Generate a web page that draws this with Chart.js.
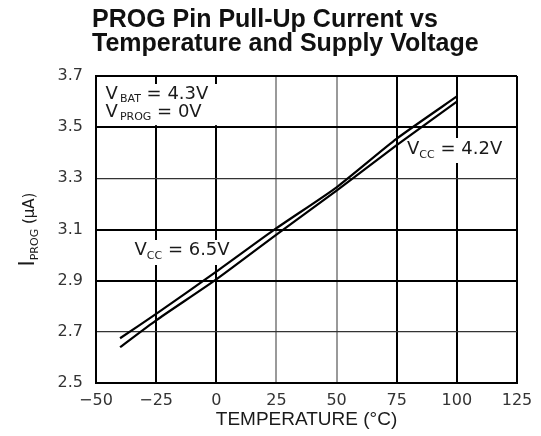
<!DOCTYPE html>
<html>
<head>
<meta charset="utf-8">
<script src="https://cdn.jsdelivr.net/npm/chart.js@4/dist/chart.umd.min.js"></script>
<style>
  body { margin: 0; background: #fff; }
  canvas { display: block; }
</style>
</head>
<body>
<canvas id="myChart" width="541" height="436"></canvas>
<script>
// data
var temps = [-40, -25, 0, 25, 50, 75, 100];
var vcc65 = [2.675, 2.77, 2.935, 3.105, 3.265, 3.455, 3.62];
var vcc42 = [2.64, 2.745, 2.905, 3.08, 3.252, 3.43, 3.60];
var xTicks = [-50, -25, 0, 25, 50, 75, 100, 125];
var yTicks = [2.5, 2.7, 2.9, 3.1, 3.3, 3.5, 3.7];

var titleLines = ['PROG Pin Pull-Up Current vs', 'Temperature and Supply Voltage'];
var textColor = '#1a1a1a';

function pts(xs, ys) {
  return xs.map(function(x, i) { return {x: x, y: ys[i]}; });
}

// draw text made of pieces [text, size, dy, gap]
function drawPieces(ctx, x, y, pieces) {
  pieces.forEach(function(p) {
    ctx.font = p[1] + 'px "DejaVu Sans"';
    ctx.fillText(p[0], x, y + (p[2] || 0));
    x += ctx.measureText(p[0]).width + (p[3] || 0);
  });
}
function piecesWidth(ctx, pieces) {
  var w = 0;
  pieces.forEach(function(p) {
    ctx.font = p[1] + 'px "DejaVu Sans"';
    w += ctx.measureText(p[0]).width + (p[3] || 0);
  });
  return w;
}

var notes = {
  id: 'notes',
  beforeDatasetsDraw: function(chart) {
    var ctx = chart.ctx, xs = chart.scales.x, ys = chart.scales.y, a = chart.chartArea;
    ctx.save();
    // blank out grid behind the labels
    ctx.fillStyle = '#fff';
    ctx.fillRect(a.left + 2, a.top + 8, xs.getPixelForValue(0) + 4 - a.left - 2, ys.getPixelForValue(3.5) - 2 - a.top - 8);
    ctx.fillRect(130, 240, 95, 25);
    ctx.fillRect(403, 138, 104, 25);

    ctx.fillStyle = textColor;
    ctx.textBaseline = 'alphabetic';
    ctx.textAlign = 'left';
    drawPieces(ctx, xs.getPixelForValue(-46), ys.getPixelForValue(3.609),
      [['V', 18, 0, 2], ['BAT', 11, 3], [' = 4.3V', 18]]);
    drawPieces(ctx, xs.getPixelForValue(-46), ys.getPixelForValue(3.539),
      [['V', 18, 0, 2], ['PROG', 11, 3], [' = 0V', 18]]);
    drawPieces(ctx, xs.getPixelForValue(-34), ys.getPixelForValue(3.0),
      [['V', 18], ['CC', 11, 4], [' = 6.5V', 18]]);
    drawPieces(ctx, xs.getPixelForValue(79.3), ys.getPixelForValue(3.395),
      [['V', 18], ['CC', 11, 4], [' = 4.2V', 18]]);
    ctx.restore();
  },
  afterDraw: function(chart) {
    var ctx = chart.ctx, a = chart.chartArea;
    ctx.save();
    // title
    ctx.fillStyle = '#111';
    ctx.textAlign = 'left';
    ctx.textBaseline = 'alphabetic';
    ctx.font = 'bold 25px "Liberation Sans"';
    ctx.fillText(titleLines[0], a.left - 4, 27);
    ctx.fillText(titleLines[1], a.left - 4, 51);
    // y axis title, rotated
    var yp = [['I', 21, 0], ['PROG', 11, 4], [' (\u00b5A)', 15, 0]];
    ctx.translate(34, (a.top + a.bottom) / 2);
    ctx.rotate(-Math.PI / 2);
    ctx.fillStyle = textColor;
    drawPieces(ctx, -piecesWidth(ctx, yp) / 2, 0, yp);
    ctx.restore();
  }
};

var ctx = document.getElementById('myChart');

var data = {
  datasets: [
    {
      label: 'VCC = 6.5V',
      data: pts(temps, vcc65),
      borderColor: '#000',
      borderWidth: 2.2,
      pointRadius: 0,
      tension: 0.2
    },
    {
      label: 'VCC = 4.2V',
      data: pts(temps, vcc42),
      borderColor: '#000',
      borderWidth: 2.2,
      pointRadius: 0,
      tension: 0.2
    }
  ]
};

var options = {
  responsive: false,
  animation: false,
  layout: { padding: { top: 76, right: 24, left: 0, bottom: 0 } },
  plugins: {
    legend: { display: false },
    tooltip: { enabled: false },
    title: { display: false }
  },
  scales: {
    x: {
      type: 'linear',
      min: -50,
      max: 125,
      afterBuildTicks: function(s) { s.ticks = xTicks.map(function(v) { return {value: v}; }); },
      afterFit: function(s) { s.height = 53; },
      grid: {
        drawTicks: false,
        color: function(c) { return (c.tick && (c.tick.value === 25 || c.tick.value === 50)) ? '#9a9a9a' : '#000'; },
        lineWidth: 2
      },
      border: { color: '#000', width: 2 },
      ticks: {
        padding: 8,
        color: '#333',
        font: { family: 'DejaVu Sans', size: 16 },
        callback: function(v) { return v < 0 ? '\u2212' + Math.abs(v) : String(v); }
      },
      title: {
        display: true,
        text: 'TEMPERATURE (\u00b0C)',
        color: textColor,
        font: { family: 'Liberation Sans', size: 19 },
        padding: { top: 0, bottom: 5 }
      }
    },
    y: {
      min: 2.5,
      max: 3.7,
      afterBuildTicks: function(s) { s.ticks = yTicks.map(function(v) { return {value: v}; }); },
      afterFit: function(s) { s.width = 96; },
      grid: {
        drawTicks: false,
        color: function(c) { return (c.tick && (c.tick.value === 2.7 || c.tick.value === 3.3)) ? '#333' : '#000'; },
        lineWidth: function(c) { return (c.tick && (c.tick.value === 2.7 || c.tick.value === 3.3)) ? 1.3 : 2; }
      },
      border: { color: '#000', width: 2 },
      ticks: {
        padding: 13,
        color: '#333',
        font: { family: 'DejaVu Sans', size: 16 },
        callback: function(v) { return v.toFixed(1); }
      }
    }
  }
};

var mychart = new Chart(ctx, {
  type: 'line',
  data: data,
  options: options,
  plugins: [notes]
});
</script>
</body>
</html>
